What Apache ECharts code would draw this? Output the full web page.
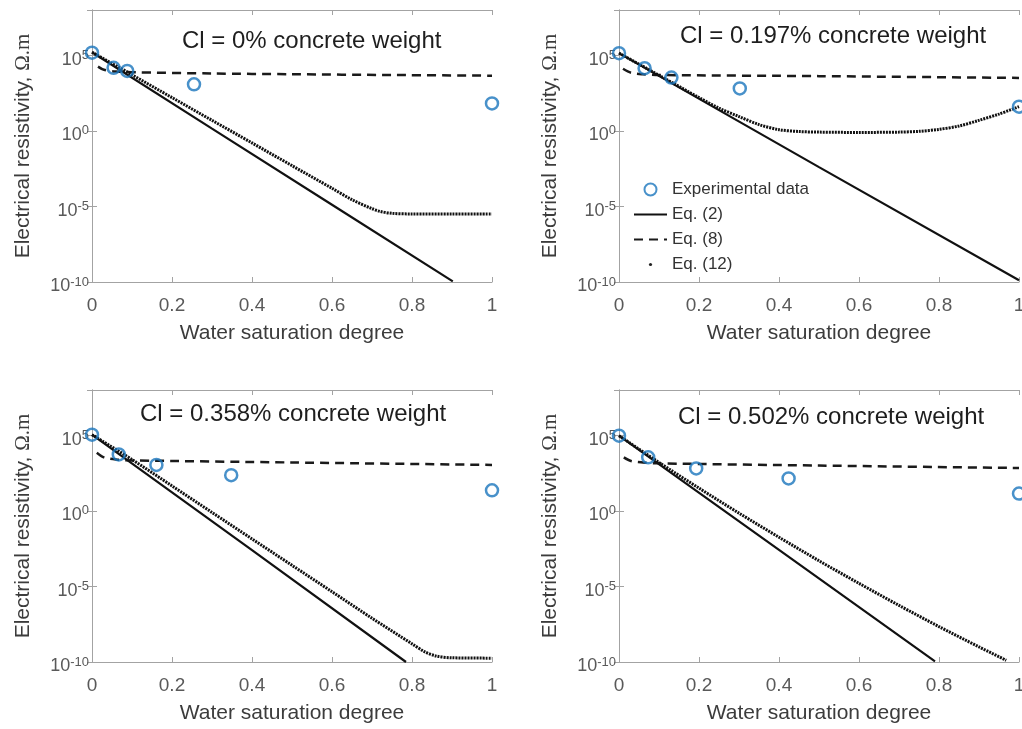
<!DOCTYPE html>
<html>
<head>
<meta charset="utf-8">
<title>Electrical resistivity vs water saturation</title>
<script src="https://cdn.jsdelivr.net/npm/echarts@6/dist/echarts.min.js"></script>
<style>
  html, body { margin: 0; padding: 0; background: #fff; }
  #main { width: 1022px; height: 729px; }
</style>
</head>
<body>
<div id="main"></div>
<script>
// panel titles (one per subplot, reading order)
var panelTitles = [
  'Cl = 0% concrete weight',
  'Cl = 0.197% concrete weight',
  'Cl = 0.358% concrete weight',
  'Cl = 0.502% concrete weight'
]

// [water saturation degree, resistivity in ohm.m]
var expCl0 = [[0, 1.5e5], [0.054, 1.5e4], [0.088, 9.3e3], [0.255, 1.2e3], [1, 66]]
var eq2Cl0 = [[0, 1.6e5], [0.3, 1.4], [0.6, 1.3e-5], [0.902, 1.1e-10]]
var eq8Cl0 = [[0.015, 1.8e4], [0.03, 1.1e4], [0.06, 8.5e3], [0.1, 7.6e3], [0.3, 6.3e3], [0.5, 5.6e3], [0.75, 5.0e3], [1, 4.5e3]]
var eq12Cl0 = [[0, 1.6e5], [0.1, 5.2e3], [0.2, 160], [0.3, 5.0], [0.4, 0.16], [0.5, 5.0e-3], [0.6, 1.6e-4], [0.65, 2.8e-5],
  [0.7, 7.1e-6], [0.72, 4.7e-6], [0.75, 3.5e-6], [0.8, 3.2e-6], [0.9, 3.2e-6], [1, 3.2e-6]]

var expCl197 = [[0, 1.4e5], [0.064, 1.4e4], [0.131, 3.4e3], [0.302, 650], [1, 40]]
var eq2Cl197 = [[0, 1.4e5], [0.5, 4.0e-3], [1, 1.3e-10]]
var eq8Cl197 = [[0.01, 1.3e4], [0.03, 7.1e3], [0.06, 5.6e3], [0.1, 5.0e3], [0.5, 4.2e3], [1, 3.2e3]]
var eq12Cl197 = [[0, 1.4e5], [0.1, 4.8e3], [0.2, 160], [0.25, 32], [0.3, 8.9], [0.35, 2.6], [0.4, 1.2], [0.45, 0.91],
  [0.5, 0.83], [0.6, 0.79], [0.7, 0.83], [0.75, 0.93], [0.8, 1.26], [0.85, 2.1], [0.9, 5.0], [0.95, 13], [1, 40]]

var expCl358 = [[0, 1.1e5], [0.067, 5.4e3], [0.161, 1.1e3], [0.348, 230], [1, 23]]
var eq2Cl358 = [[0, 1.1e5], [0.4, 2.5e-3], [0.785, 1.0e-10]]
var eq8Cl358 = [[0.012, 7.1e3], [0.03, 3.5e3], [0.06, 2.5e3], [0.1, 2.2e3], [0.5, 1.6e3], [1, 1.1e3]]
var eq12Cl358 = [[0, 1.1e5], [0.1, 2.5e3], [0.2, 45], [0.3, 0.79], [0.4, 1.4e-2], [0.5, 2.5e-4], [0.6, 4.5e-6],
  [0.7, 7.9e-8], [0.8, 1.6e-9], [0.83, 5.0e-10], [0.86, 2.5e-10], [0.9, 1.9e-10], [1, 1.8e-10]]

var expCl502 = [[0, 9.5e4], [0.073, 3.5e3], [0.193, 650], [0.424, 140], [1, 14]]
var eq2Cl502 = [[0, 9.5e4], [0.4, 2.6e-3], [0.79, 1.1e-10]]
var eq8Cl502 = [[0.012, 3.5e3], [0.03, 2.0e3], [0.06, 1.6e3], [0.1, 1.4e3], [0.5, 1.0e3], [1, 690]]
var eq12Cl502 = [[0, 9.5e4], [0.1, 1.6e3], [0.2, 32], [0.3, 0.71], [0.4, 1.8e-2], [0.5, 5.0e-4], [0.6, 1.6e-5],
  [0.7, 5.6e-7], [0.8, 2.2e-8], [0.9, 1.0e-9], [0.968, 1.3e-10]]

var expSets = [expCl0, expCl197, expCl358, expCl502]
var eq2Sets = [eq2Cl0, eq2Cl197, eq2Cl358, eq2Cl502]
var eq8Sets = [eq8Cl0, eq8Cl197, eq8Cl358, eq8Cl502]
var eq12Sets = [eq12Cl0, eq12Cl197, eq12Cl358, eq12Cl502]

var FONT = '"Liberation Sans", Arial, Helvetica, sans-serif'
var AXIS_COLOR = '#a3a3a3'
var TICK_TEXT = '#595959'
var NAME_TEXT = '#3c3c3c'
var BLUE = '#1a76bd'

var gridPos = [
  { left: 92, top: 10 },
  { left: 619, top: 10 },
  { left: 92, top: 390 },
  { left: 619, top: 390 }
]
var titlePos = [[182, 29], [680, 24], [140, 402], [678, 405]]

function powLabel(v) {
  var e = Math.round(Math.log10(v))
  if (e % 5 !== 0 || e > 5) return ''
  return '{b|10}{s|' + e + '}'
}

var grids = [], xAxes = [], yAxes = [], series = [], titles = []

gridPos.forEach(function (g, i) {
  grids.push({ left: g.left, top: g.top, width: 400, height: 272, containLabel: false, outerBoundsMode: 'none' })

  titles.push({
    text: panelTitles[i], left: titlePos[i][0], top: titlePos[i][1], padding: 0,
    textStyle: { fontFamily: FONT, fontSize: 24, fontWeight: 'normal', color: '#1e1e1e' }
  })

  var lineAxis = { lineStyle: { color: AXIS_COLOR, width: 1 } }
  var inTick = { inside: true, length: 5, lineStyle: { color: AXIS_COLOR } }

  xAxes.push({
    gridIndex: i, type: 'value', min: 0, max: 1, interval: 0.2, position: 'bottom',
    name: 'Water saturation degree', nameLocation: 'middle', nameGap: 41, nameMoveOverlap: false,
    nameTextStyle: { fontFamily: FONT, fontSize: 21, color: NAME_TEXT },
    axisLine: lineAxis, axisTick: inTick, splitLine: { show: false },
    axisLabel: { margin: 14, fontFamily: FONT, fontSize: 19, color: TICK_TEXT }
  })
  xAxes.push({
    gridIndex: i, type: 'value', min: 0, max: 1, interval: 0.2, position: 'top',
    axisLine: lineAxis, axisTick: inTick, splitLine: { show: false }, axisLabel: { show: false }
  })

  yAxes.push({
    gridIndex: i, type: 'log', logBase: 10, min: 1e-10, max: 1e8, interval: 5, position: 'left',
    name: 'Electrical resistivity, {om|Ω.m}', nameLocation: 'middle', nameGap: 58, nameMoveOverlap: false,
    nameTextStyle: {
      fontFamily: FONT, fontSize: 21, color: NAME_TEXT,
      rich: { om: { fontFamily: '"Liberation Serif", "Times New Roman", serif', fontSize: 21, color: NAME_TEXT } }
    },
    axisLine: lineAxis, axisTick: inTick, splitLine: { show: false }, minorTick: { show: false },
    axisLabel: {
      margin: 3, formatter: powLabel, showMaxLabel: false, padding: [7, 0, 0, 0],
      rich: {
        b: { fontFamily: FONT, fontSize: 18, color: TICK_TEXT, lineHeight: 20, verticalAlign: 'bottom' },
        s: { fontFamily: FONT, fontSize: 13, color: TICK_TEXT, verticalAlign: 'top' }
      }
    }
  })
  yAxes.push({
    gridIndex: i, type: 'log', logBase: 10, min: 1e-10, max: 1e8, interval: 5, position: 'right',
    axisLine: lineAxis, axisTick: inTick, splitLine: { show: false }, axisLabel: { show: false }
  })

  var xi = i * 2, yi = i * 2
  series.push({
    name: 'Eq. (8)', type: 'line', xAxisIndex: xi, yAxisIndex: yi, data: eq8Sets[i],
    symbol: 'none', smooth: 0.3, clip: true, z: 2,
    lineStyle: { color: '#1a1a1a', width: 2.5, type: [9, 6] }
  })
  series.push({
    name: 'Eq. (12)', type: 'line', xAxisIndex: xi, yAxisIndex: yi, data: eq12Sets[i],
    symbol: 'none', smooth: 0.3, clip: true, z: 3,
    lineStyle: { color: '#111', width: 3, type: [2, 1] }
  })
  series.push({
    name: 'Eq. (2)', type: 'line', xAxisIndex: xi, yAxisIndex: yi, data: eq2Sets[i],
    symbol: 'none', clip: true, z: 4,
    lineStyle: { color: '#111', width: 2.2 }
  })
  series.push({
    name: 'Experimental data', type: 'scatter', xAxisIndex: xi, yAxisIndex: yi, data: expSets[i],
    symbol: 'circle', symbolSize: 12, clip: false, z: 5,
    itemStyle: { color: 'rgba(255,255,255,0)', borderColor: BLUE, borderWidth: 2.5 }
  })
})

var legendText = { fontFamily: FONT, fontSize: 17, color: '#333' }

var chart = echarts.init(document.getElementById('main'), null, { renderer: 'canvas' })
chart.setOption({
  backgroundColor: '#fff',
  animation: false,
  title: titles,
  grid: grids,
  xAxis: xAxes,
  yAxis: yAxes,
  legend: [{
    data: [
      { name: 'Experimental data' },
      { name: 'Eq. (2)', itemStyle: { opacity: 0 } },
      { name: 'Eq. (8)', itemStyle: { opacity: 0 } }
    ],
    orient: 'vertical', left: 633, top: 181, padding: 0,
    itemWidth: 33, itemHeight: 12, itemGap: 8, selectedMode: false,
    textStyle: legendText
  }, {
    data: [{ name: 'Eq. (12)', lineStyle: { opacity: 0 }, itemStyle: { color: '#222' } }],
    orient: 'vertical', left: 633, top: 256, padding: 0,
    itemWidth: 33, itemHeight: 4, selectedMode: false,
    textStyle: legendText
  }],
  series: series
})
</script>
</body>
</html>
